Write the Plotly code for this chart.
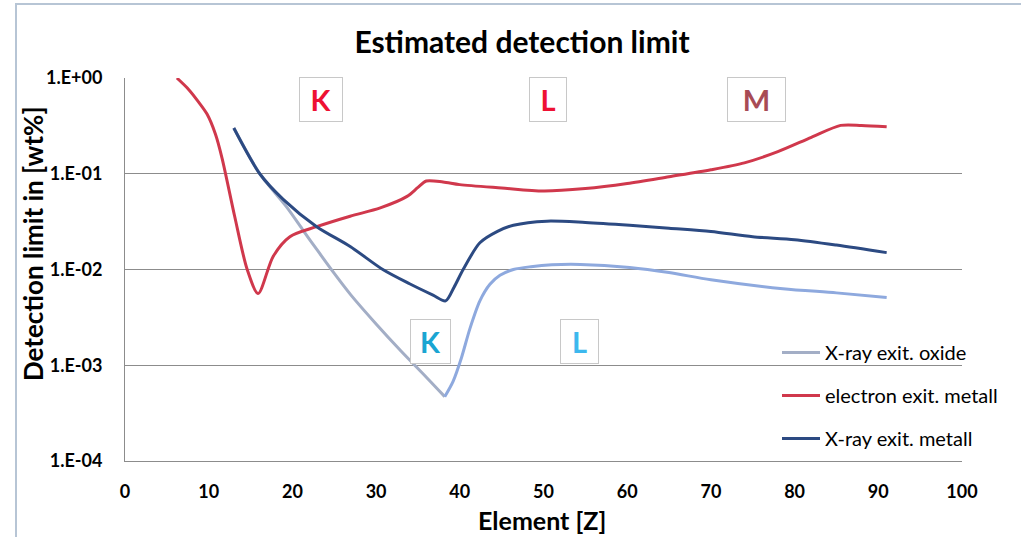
import plotly.graph_objects as go

# ---------------- data ----------------
z_electron = [6.2, 7.6, 8.8, 9.8, 10.8, 11.6, 13.1, 14.6, 15.9, 17.7, 19.7, 22.9, 26.9, 30.5, 33.7, 35, 36, 38, 40, 45, 50, 55, 60, 65, 70, 74, 78, 82, 85.5, 88, 91]
v_electron = [1.0, 0.76, 0.56, 0.42, 0.26, 0.145, 0.036, 0.010, 0.0056, 0.0137, 0.022, 0.028, 0.036, 0.044, 0.058, 0.072, 0.084, 0.082, 0.077, 0.071, 0.066, 0.070, 0.079, 0.093, 0.11, 0.13, 0.17, 0.24, 0.32, 0.32, 0.31]

z_metall = [13, 16.1, 18.9, 22.9, 26.9, 30.8, 34, 36.8, 38.3, 39.3, 40.4, 42.4, 44.5, 46.4, 50.4, 55, 60.3, 65, 70, 75, 80, 85, 91]
v_metall = [0.30, 0.10, 0.054, 0.028, 0.0174, 0.010, 0.0071, 0.0054, 0.0047, 0.0065, 0.010, 0.019, 0.025, 0.029, 0.032, 0.031, 0.029, 0.027, 0.025, 0.022, 0.0205, 0.018, 0.015]

z_oxide = [13, 16.1, 19.3, 21.3, 23, 25, 27, 30, 33, 36, 38.2, 39.2, 40.2, 41.2, 42.4, 43.6, 44.8, 46.4, 48.5, 51, 54.4, 60.3, 65, 70, 78.6, 85, 91]
v_oxide = [0.30, 0.10, 0.045, 0.0255, 0.0158, 0.0091, 0.0054, 0.0027, 0.0014, 0.00075, 0.00047, 0.00068, 0.0012, 0.0024, 0.0047, 0.0070, 0.0087, 0.010, 0.0107, 0.0112, 0.0113, 0.0105, 0.0093, 0.0078, 0.0063, 0.0057, 0.0051]
oxide_min_index = 10  # Z = 38.2

series_names = ["X-ray exit. oxide", "electron exit. metall", "X-ray exit. metall"]

y_tick_vals = [1, 0.1, 0.01, 0.001, 0.0001]
y_tick_text = ["1.E+00", "1.E-01", "1.E-02", "1.E-03", "1.E-04"]
x_tick_vals = [0, 10, 20, 30, 40, 50, 60, 70, 80, 90, 100]

edge_labels = ["K", "L", "M", "K", "L"]
edge_x = [23.36, 50.5, 75.4, 36.44, 54.36]
edge_ylog = [-0.229, -0.229, -0.229, -2.75, -2.75]
edge_colors = ["#EE1133", "#EE1133", "#A84B55", "#1AA5D2", "#3DB8EE"]
edge_widths = [42, 36, 57, 39, 37]

# ---------------- figure ----------------
FONT = "Lato"
W, H = 1021, 537
L, R, T, B = 125, 59, 78, 76
pw, ph = W - L - R, H - T - B


def px_x(px):
    return (px - L) / pw


def px_y(py):
    return (H - B - py) / ph


fig = go.Figure()
SM = 0.8
fig.add_trace(go.Scatter(
    x=z_oxide[:oxide_min_index + 1], y=v_oxide[:oxide_min_index + 1], mode="lines",
    name=series_names[0], legendgroup="oxide",
    line=dict(color="#A3AEC6", width=3, shape="spline", smoothing=SM)))
fig.add_trace(go.Scatter(
    x=z_oxide[oxide_min_index:], y=v_oxide[oxide_min_index:], mode="lines",
    name=series_names[0], legendgroup="oxide", showlegend=False,
    line=dict(color="#8EA9DE", width=3, shape="spline", smoothing=SM)))
fig.add_trace(go.Scatter(
    x=z_electron, y=v_electron, mode="lines", name=series_names[1], legendgroup="electron",
    line=dict(color="#D0384C", width=3, shape="spline", smoothing=SM)))
fig.add_trace(go.Scatter(
    x=z_metall, y=v_metall, mode="lines", name=series_names[2], legendgroup="metall",
    line=dict(color="#2C4A82", width=3, shape="spline", smoothing=SM)))

annotations = []
for lab, x, yl, c, w in zip(edge_labels, edge_x, edge_ylog, edge_colors, edge_widths):
    annotations.append(dict(
        x=x, y=yl, xref="x", yref="y", text=lab, showarrow=False,
        font=dict(family=FONT, size=29, color=c, weight="bold"),
        bgcolor="white", bordercolor="#C8C8C8", borderwidth=1, borderpad=0,
        width=w, height=43, align="center", valign="middle"))

# axis titles
annotations.append(dict(
    x=px_x(33), y=px_y(244), xref="paper", yref="paper", text="Detection limit in [wt%]",
    xanchor="center", yanchor="middle", showarrow=False, textangle=-90,
    font=dict(family=FONT, size=26, color="black", weight="bold")))
annotations.append(dict(
    x=px_x(542), y=px_y(520), xref="paper", yref="paper", text="Element [Z]",
    xanchor="center", yanchor="middle", showarrow=False,
    font=dict(family=FONT, size=25, color="black", weight="bold")))

shapes = [
    # outer chart border (left + top visible)
    dict(type="rect", xref="paper", yref="paper",
         x0=px_x(16), x1=px_x(1060), y0=px_y(600), y1=px_y(4),
         line=dict(color="#B7C5D5", width=2), fillcolor="rgba(0,0,0,0)", layer="below"),
    # legend area background hiding the gridline
    dict(type="rect", xref="paper", yref="paper",
         x0=px_x(757), x1=1.0, y0=px_y(380), y1=px_y(340),
         line=dict(width=0), fillcolor="white", layer="between"),
]

fig.update_layout(
    width=W, height=H,
    margin=dict(l=L, r=R, t=T, b=B, pad=0),
    paper_bgcolor="white", plot_bgcolor="white",
    title=dict(text="Estimated detection limit", x=522 / W, xanchor="center",
               y=1 - 42 / H, yanchor="middle", xref="container", yref="container",
               font=dict(family=FONT, size=30, color="black", weight="bold")),
    font=dict(family=FONT, color="black"),
    showlegend=True,
    legend=dict(x=px_x(777), y=px_y(333), xanchor="left", yanchor="top",
                bgcolor="rgba(0,0,0,0)", borderwidth=0,
                font=dict(family=FONT, size=20, color="black"),
                tracegroupgap=14, itemwidth=38),
    annotations=annotations,
    shapes=shapes,
)

fig.update_xaxes(range=[0, 100], tickvals=x_tick_vals, showgrid=False, zeroline=False,
                 showline=True, linecolor="#8C8C8C", linewidth=1, ticks="",
                 ticklabelstandoff=14,
                 tickfont=dict(family=FONT, size=18, color="black", weight="bold"))
fig.update_yaxes(type="log", range=[-4, 0], tickvals=y_tick_vals, ticktext=y_tick_text,
                 showgrid=True, gridcolor="#8C8C8C", gridwidth=1, zeroline=False,
                 showline=True, linecolor="#8C8C8C", linewidth=1, ticks="",
                 ticklabelstandoff=18,
                 tickfont=dict(family=FONT, size=18, color="black", weight="bold"))

fig.write_html("out.html")
